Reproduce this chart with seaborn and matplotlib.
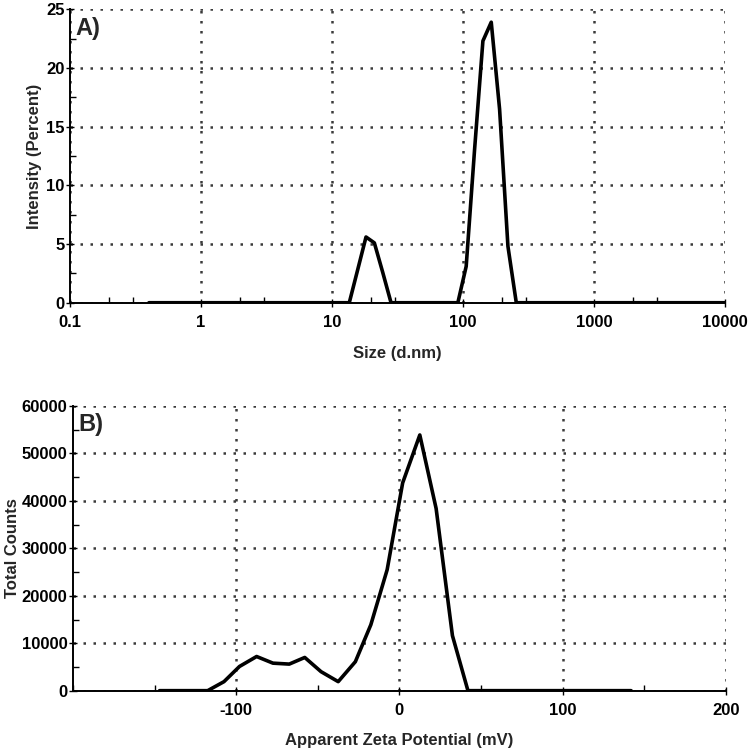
import numpy as np
import pandas as pd
import matplotlib
matplotlib.use("Agg")
import matplotlib.pyplot as plt
import matplotlib.ticker as mticker
import seaborn as sns

# Size distribution (DLS)
size_nm = [0.4, 13.54, 15.69, 18.17, 21.04, 24.36, 28.21, 91.28, 105.7, 122.4,
           141.8, 164.2, 190.1, 220.2, 255.0, 10000]
intensity = [0, 0, 2.8, 5.6, 5.1, 2.6, 0, 0, 3.1, 13.0,
             22.3, 23.9, 16.5, 4.8, 0, 0]

# Zeta potential distribution
zeta_mv = [-147, -117.5, -107.5, -98, -87.5, -77.5, -67.5, -58, -48, -37.5,
           -27, -17.5, -7.5, 2, 12.5, 22.5, 32.5, 42, 142]
counts = [0, 0, 1900, 5100, 7200, 5800, 5600, 7000, 4000, 1900,
          6100, 13900, 25500, 43800, 53900, 38400, 11600, 0, 0]

size_ticks = [0.1, 1, 10, 100, 1000, 10000]
size_labels = ["0.1", "1", "10", "100", "1000", "10000"]
zeta_ticks = [-100, 0, 100, 200]

df_size = pd.DataFrame({"size": size_nm, "intensity": intensity})
df_zeta = pd.DataFrame({"zeta": zeta_mv, "counts": counts})

sns.set_style("white")
plt.rcParams["font.family"] = ["Liberation Sans", "DejaVu Sans"]
plt.rcParams["axes.unicode_minus"] = False

fig = plt.figure(figsize=(7.49, 7.54), dpi=100)
ax1 = fig.add_axes([0.0935, 0.5985, 0.8745, 0.3892])
ax2 = fig.add_axes([0.0975, 0.084, 0.8715, 0.3775])

grid_kw = dict(color="#3a3a3a", linestyle=(0, (1, 3)), linewidth=1.8)

# A) size
sns.lineplot(data=df_size, x="size", y="intensity", ax=ax1, color="black",
             linewidth=2.6, legend=False)
ax1.set_xscale("log")
ax1.set_xlim(0.1, 10000)
ax1.set_ylim(0, 25)
ax1.set_xticks(size_ticks)
ax1.set_xticklabels(size_labels)
ax1.xaxis.set_minor_locator(mticker.LogLocator(base=10, subs=(2, 3)))
ax1.xaxis.set_minor_formatter(mticker.NullFormatter())
ax1.set_yticks([0, 5, 10, 15, 20, 25])
ax1.yaxis.set_minor_locator(mticker.MultipleLocator(2.5))
ax1.set_xlabel("Size (d.nm)", fontsize=12, fontweight="bold", labelpad=11)
ax1.set_ylabel("Intensity (Percent)", fontsize=12, fontweight="bold", labelpad=3)
ax1.text(0.008, 0.975, "A)", transform=ax1.transAxes, fontsize=17,
         fontweight="bold", va="top", ha="left")

# B) zeta
sns.lineplot(data=df_zeta, x="zeta", y="counts", ax=ax2, color="black",
             linewidth=2.6, legend=False)
ax2.set_xlim(-200, 200)
ax2.set_ylim(0, 60000)
ax2.set_xticks(zeta_ticks)
ax2.xaxis.set_minor_locator(mticker.MultipleLocator(50))
ax2.set_yticks(range(0, 60001, 10000))
ax2.yaxis.set_minor_locator(mticker.MultipleLocator(5000))
ax2.set_xlabel("Apparent Zeta Potential (mV)", fontsize=12, fontweight="bold", labelpad=11)
ax2.set_ylabel("Total Counts", fontsize=12, fontweight="bold", labelpad=1)
ax2.text(0.008, 0.975, "B)", transform=ax2.transAxes, fontsize=17,
         fontweight="bold", va="top", ha="left")

for ax in (ax1, ax2):
    ax.grid(True, which="major", **grid_kw)
    ax.set_axisbelow(True)
    for side in ("top", "right"):
        ax.spines[side].set_visible(False)
    for side in ("left", "bottom"):
        ax.spines[side].set_color("black")
        ax.spines[side].set_linewidth(1.4)
    ax.tick_params(which="major", direction="inout", length=6, width=1,
                   colors="black", labelsize=12, pad=1)
    ax.tick_params(axis="x", which="major", pad=6)
    ax.tick_params(which="minor", direction="in", length=4, width=1,
                   colors="black")
    ax.tick_params(axis="both", which="both", bottom=True, left=True)
    for lbl in ax.get_xticklabels() + ax.get_yticklabels():
        lbl.set_color("black")
        lbl.set_fontweight("bold")

ax2.set_zorder(1)

fig.savefig("out.png", dpi=100)
